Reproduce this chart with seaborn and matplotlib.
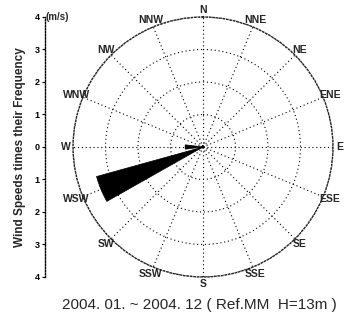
import numpy as np
import matplotlib
matplotlib.use("Agg")
import matplotlib.pyplot as plt
import seaborn as sns

sns.set_theme(style="white")
plt.rcParams['font.family'] = ['Liberation Sans', 'DejaVu Sans']

directions = ["N", "NNE", "NE", "ENE", "E", "ESE", "SE", "SSE",
              "S", "SSW", "SW", "WSW", "W", "WNW", "NW", "NNW"]
values = [0.05, 0.03, 0.03, 0.03, 0.05, 0.03, 0.03, 0.03,
          0.03, 0.03, 0.05, 3.4, 0.55, 0.05, 0.03, 0.05]
radial_ticks = [1, 2, 3, 4]
axis_ticks = [4, 3, 2, 1, 0, -1, -2, -3, -4]
title = "2004. 01. ~ 2004. 12 ( Ref.MM  H=13m )"
ylabel = "Wind Speeds times their Frequency"

fig = plt.figure(figsize=(3.47, 3.20), dpi=100)
fig.patch.set_facecolor("white")

ax = fig.add_axes([0.2104, 0.1344, 0.7493, 0.8125], projection="polar")
ax.set_theta_zero_location("N")
ax.set_theta_direction(-1)
theta = np.deg2rad(np.arange(len(directions)) * 22.5)
ax.bar(theta, values, width=np.deg2rad(14), color="black", edgecolor="black",
       linewidth=0.5, zorder=3)
ax.set_ylim(0, 4)
ax.set_yticks(radial_ticks)
ax.set_yticklabels([])
ax.set_xticks(theta)
ax.set_xticklabels([])
for th, name in zip(theta, directions):
    ax.text(th, 4.22, name, ha="center", va="center", fontsize=7.5,
            fontweight="bold", clip_on=False)
ax.grid(True, color="black", linestyle=(0, (1, 2.5)), linewidth=0.8)
ax.spines["polar"].set_linestyle((0, (1, 1.5)))
ax.spines["polar"].set_linewidth(1.0)
ax.set_facecolor("white")

lax = fig.add_axes([0.13, 0.1344, 0.001, 0.8125])
lax.set_ylim(-4, 4)
lax.set_xlim(0, 1)
lax.set_yticks(axis_ticks)
lax.set_yticklabels([str(abs(t)) for t in axis_ticks], fontsize=6.5, fontweight="bold")
lax.set_xticks([])
for s in ["top", "bottom", "right"]:
    lax.spines[s].set_visible(False)
lax.spines["left"].set_linestyle((0, (1, 1.2)))
lax.spines["left"].set_linewidth(1.0)
lax.spines["left"].set_color("black")
lax.tick_params(axis="y", length=2, width=0.8, pad=2, left=True, colors="black")
lax.set_ylabel(ylabel, fontsize=8.5, fontweight="bold", labelpad=6)
lax.text(0.03, 4, "(m/s)", transform=lax.transData, fontsize=7, fontweight="bold",
         ha="left", va="center", clip_on=False)

fig.text(0.575, 0.047, title, ha="center", va="center", fontsize=11)

fig.savefig("out.png", dpi=100, facecolor="white")
